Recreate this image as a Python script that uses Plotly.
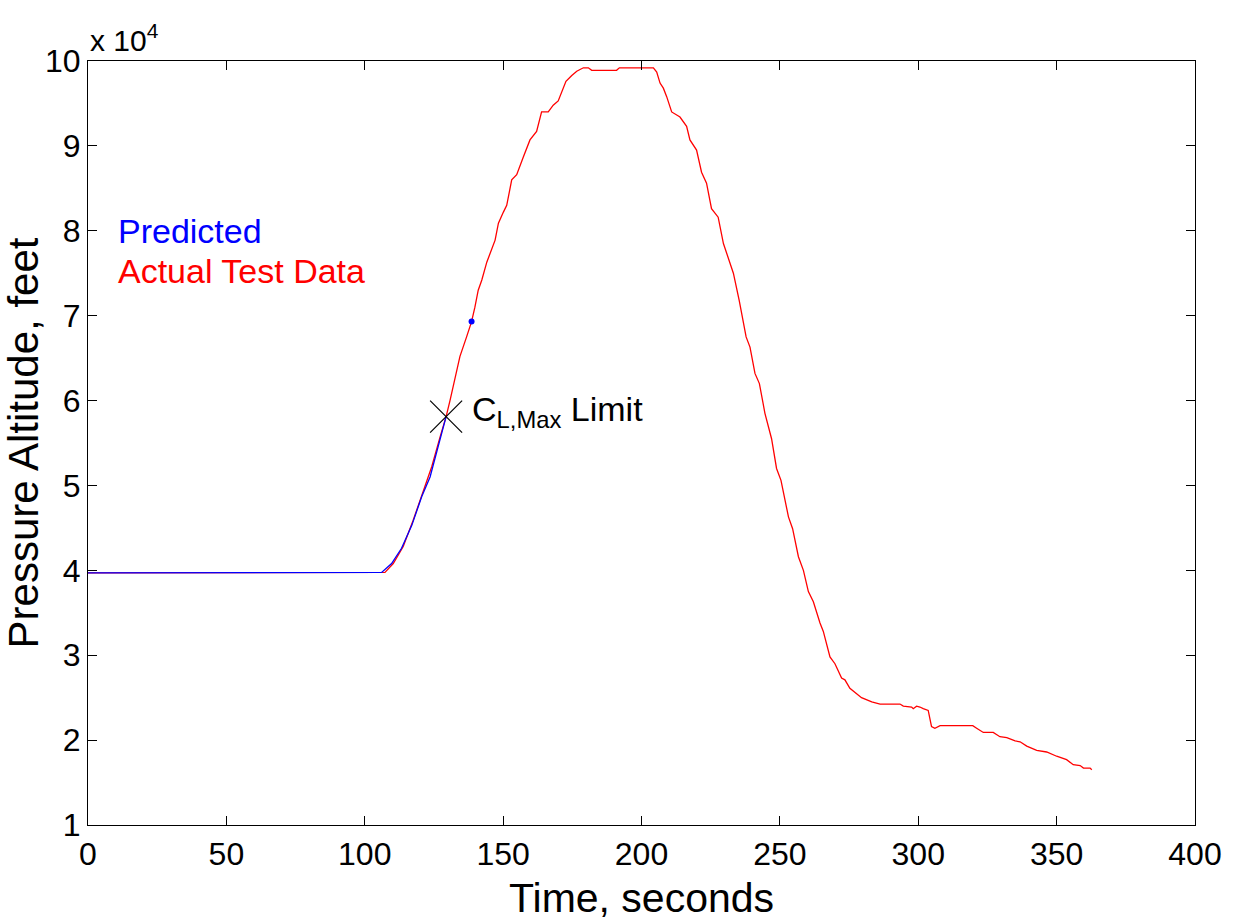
import plotly.graph_objects as go

# Actual test data (time s, altitude ft)
actual_t = [0, 50, 100, 107.3, 110.3, 113.9, 117.5, 121.2, 124.2, 127.2, 129.4, 130.8, 132.6, 134.4,
            136.8, 138.6, 139.8, 141.0, 142.3, 144.1, 147.1, 148.3, 150.1, 151.3, 153.1, 154.9,
            157.3, 159.7, 162.1, 163.9, 166.3, 168.1, 169.9, 172.7, 174.8, 176.6, 179.0, 180.8,
            182.0, 191.0, 192.0, 204.3, 205.5, 206.7, 207.9, 209.1, 210.9, 213.9, 216.3, 217.5,
            219.9, 221.7, 223.5, 225.3, 227.7, 229.6, 233.2, 235.3, 237.8, 239.2, 241.0, 242.6,
            244.6, 247.0, 248.8, 250.4, 253.1, 254.6, 256.7, 258.5, 260.3, 262.1, 264.5, 265.7,
            268.1, 269.9, 272.3, 273.5, 275.3, 277.7, 279.5, 283.2, 286.2, 293.4, 294.6, 297.6,
            298.2, 299.4, 300.6, 301.8, 303.6, 304.8, 306.0, 307.9, 319.7, 321.1, 323.5, 327.1,
            329.5, 332.0, 335.0, 336.8, 339.2, 342.8, 346.4, 350.0, 353.6, 356.0, 358.5, 359.7,
            362.1, 362.7]
actual_alt = [39700, 39700, 39700, 39750, 40800, 42800, 45900, 49500, 52200, 55700, 58100, 60000, 62800, 65200,
              67500, 69300, 71000, 73000, 74200, 76300, 78900, 80900, 82200, 83000, 86000, 86600,
              88700, 90700, 91700, 94000, 94000, 94800, 95300, 97600, 98300, 98800, 99200, 99200,
              98900, 98900, 99200, 99200, 98700, 97400, 96800, 95800, 94000, 93400, 92300, 90700,
              89500, 86900, 85600, 82600, 81600, 78500, 75000, 71800, 67500, 66300, 63200, 62000,
              58500, 55500, 52000, 50600, 46300, 44900, 41600, 40000, 37500, 36300, 33800, 32800,
              29800, 29000, 27300, 27100, 26100, 25500, 25000, 24500, 24250, 24250, 24000, 23900,
              23700, 24000, 23900, 23700, 23500, 21600, 21400, 21700, 21700, 21400, 20900, 20900,
              20400, 20300, 19900, 19800, 19300, 18800, 18600, 18100, 17700, 17100, 17000, 16700,
              16700, 16500]

# Predicted (time s, altitude ft)
pred_t = [0, 50, 100, 106.1, 109.7, 113.3, 117.0, 120.6, 123.6, 126.6, 129.4]
pred_alt = [39700, 39700, 39700, 39750, 40800, 42600, 45300, 48700, 51000, 54600, 58100]
pred_end_t = [138.6]
pred_end_alt = [69300]

# CL,max limit point
clmax_t = [129.4]
clmax_alt = [58100]

y_tickvals = [10000, 20000, 30000, 40000, 50000, 60000, 70000, 80000, 90000, 100000]
y_ticktext = ["1", "2", "3", "4", "5", "6", "7", "8", "9", "10"]
x_tickvals = [0, 50, 100, 150, 200, 250, 300, 350, 400]

FONT = "Liberation Sans, Arial, sans-serif"

fig = go.Figure()
fig.add_trace(go.Scatter(x=actual_t, y=actual_alt, mode="lines",
                         line=dict(color="#ff0000", width=1.3), showlegend=False))
fig.add_trace(go.Scatter(x=pred_t, y=pred_alt, mode="lines",
                         line=dict(color="#0000ff", width=1.3), showlegend=False))
fig.add_trace(go.Scatter(x=pred_end_t, y=pred_end_alt, mode="markers",
                         marker=dict(color="#0000ff", size=6), showlegend=False))
fig.add_trace(go.Scatter(x=clmax_t, y=clmax_alt, mode="markers",
                         marker=dict(symbol="x-thin", size=32, color="black",
                                     line=dict(color="black", width=1.2)),
                         showlegend=False))

axis_common = dict(showline=True, linecolor="black", linewidth=1.2, mirror="ticks",
                   ticks="inside", ticklen=9, tickcolor="black", tickwidth=1.2,
                   showgrid=False, zeroline=False,
                   tickfont=dict(family=FONT, size=32, color="black"))

fig.update_xaxes(range=[0, 400], tickvals=x_tickvals, **axis_common)
fig.update_yaxes(range=[10000, 100000], tickvals=y_tickvals, ticktext=y_ticktext,
                 title=dict(text="Pressure Altitude, feet", font=dict(family=FONT, size=42, color="black"),
                            standoff=2),
                 **axis_common)

# x-axis title as annotation for precise placement
fig.add_annotation(x=0.5, y=0, xref="paper", yref="paper", xanchor="center", yanchor="middle",
                   text="Time, seconds", showarrow=False, yshift=-73,
                   font=dict(family=FONT, size=41, color="black"))
fig.add_annotation(x=0, y=1, xref="paper", yref="paper", xanchor="left", yanchor="bottom",
                   text="x 10<sup>4</sup>", showarrow=False, yshift=2,
                   font=dict(family=FONT, size=30, color="black"))
fig.add_annotation(x=10, y=80000, xref="x", yref="y", xanchor="left", yanchor="middle",
                   text="Predicted", showarrow=False,
                   font=dict(family=FONT, size=34, color="#0000ff"))
fig.add_annotation(x=10, y=75300, xref="x", yref="y", xanchor="left", yanchor="middle",
                   text="Actual Test Data", showarrow=False,
                   font=dict(family=FONT, size=34, color="#ff0000"))
fig.add_annotation(x=138, y=58700, xref="x", yref="y", xanchor="left", yanchor="middle",
                   text="C<sub>L,Max</sub> Limit", showarrow=False,
                   font=dict(family=FONT, size=34, color="black"))

fig.update_layout(width=1237, height=921, paper_bgcolor="white", plot_bgcolor="white",
                  margin=dict(l=88, r=42, t=61, b=96, autoexpand=False),
                  font=dict(family=FONT, color="black"))

fig.write_html("out.html", config={"displayModeBar": False},
               post_script="document.body.style.margin='0';document.body.style.overflow='hidden';")
